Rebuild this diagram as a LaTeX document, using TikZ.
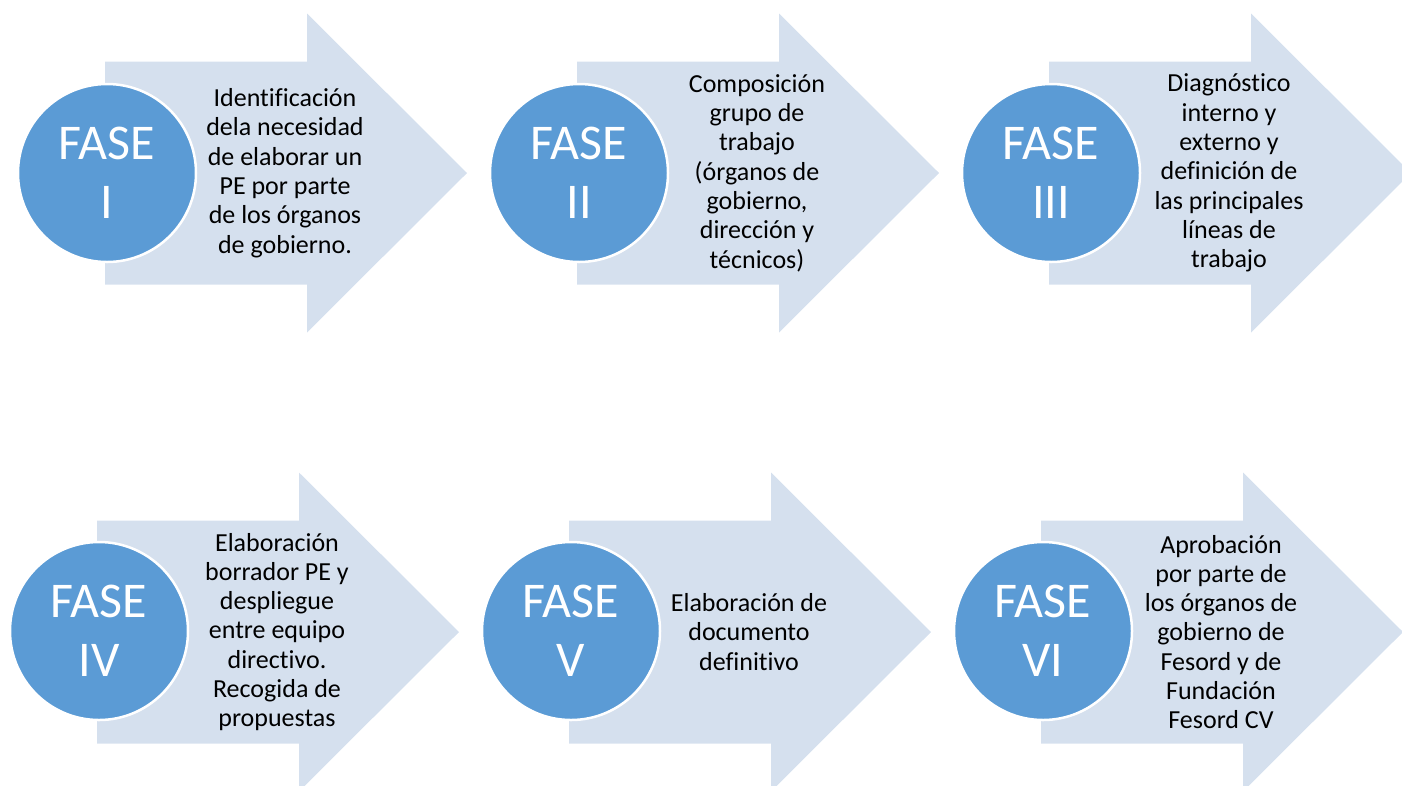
\documentclass[tikz,border=0pt]{standalone}
\usepackage{fontspec}
\setmainfont[Ligatures=CommonOff]{Carlito}
\definecolor{arrowfill}{RGB}{213,224,238}
\definecolor{circfill}{RGB}{91,155,213}
\tikzset{
  phasearrow/.style={fill=arrowfill, draw=none},
  phasecircle/.style={circle, fill=circfill, draw=white, line width=2.5pt,
    minimum size=178pt, inner sep=0pt, text=white, align=center,
    font=\fontsize{50}{59}\selectfont},
  phasetext/.style={align=center, text=black, inner sep=0pt,
    font=\fontsize{26}{29.3}\selectfont}
}
\newcommand{\phasearrowshape}[3]{%
  \fill[phasearrow] (#1,#2-111.5) -- (#1+202,#2-111.5) -- (#1+202,#2-159.5)
    -- (#1+362,#2) -- (#1+202,#2+159.5) -- (#1+202,#2+111.5) -- (#1,#2+111.5) -- cycle;
}
\begin{document}
\begin{tikzpicture}[x=1pt,y=-1pt]
\useasboundingbox (0,0) rectangle (1402,785);
\clip (0,0) rectangle (1402,785);
% top row
\phasearrowshape{105}{173}{a1}
\phasearrowshape{577}{173}{a2}
\phasearrowshape{1049}{173}{a3}
% bottom row
\phasearrowshape{97}{632}{a4}
\phasearrowshape{569}{632}{a5}
\phasearrowshape{1041}{632}{a6}

\node[phasecircle] (c1) at (107,173) {FASE\\I};
\node[phasecircle] (c2) at (579,173) {FASE\\II};
\node[phasecircle] (c3) at (1051,173) {FASE\\III};
\node[phasecircle] (c4) at (99,631) {FASE\\IV};
\node[phasecircle] (c5) at (571,631) {FASE\\V};
\node[phasecircle] (c6) at (1043,631) {FASE\\VI};

\node[phasetext] (t1) at (285,173) {Identificación\\dela necesidad\\de elaborar un\\PE por parte\\de los órganos\\de gobierno.};
\node[phasetext] (t2) at (757,173) {Composición\\grupo de\\trabajo\\(órganos de\\gobierno,\\dirección y\\técnicos)};
\node[phasetext] (t3) at (1229,173) {Diagnóstico\\interno y\\externo y\\definición de\\las principales\\líneas de\\trabajo};
\node[phasetext] (t4) at (277,632) {Elaboración\\borrador PE y\\despliegue\\entre equipo\\directivo.\\Recogida de\\propuestas};
\node[phasetext] (t5) at (749,632) {Elaboración de\\documento\\definitivo};
\node[phasetext] (t6) at (1221,632) {Aprobación\\por parte de\\los órganos de\\gobierno de\\Fesord y de\\Fundación\\Fesord CV};
\end{tikzpicture}
\end{document}
